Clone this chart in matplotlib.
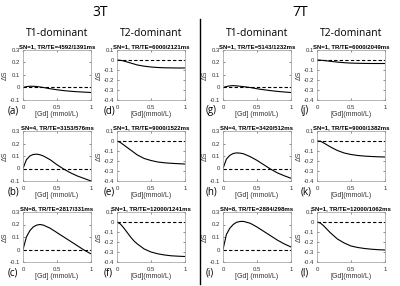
import matplotlib.pyplot as plt

plt.rcParams['font.family'] = ['Liberation Sans', 'DejaVu Sans']

# Gd concentration sample points (mmol/L)
gd = [0, 0.05, 0.1, 0.15, 0.2, 0.25, 0.3, 0.4, 0.5, 0.6, 0.7, 0.8, 0.9, 1.0]

# 3T curves
ds_a = [0, 0.007, 0.01, 0.01, 0.008, 0.004, 0.0, -0.01, -0.018, -0.025, -0.03, -0.034, -0.037, -0.04]
ds_b = [0, 0.07, 0.1, 0.112, 0.115, 0.11, 0.1, 0.07, 0.03, -0.005, -0.035, -0.06, -0.08, -0.1]
ds_c = [0, 0.1, 0.15, 0.18, 0.195, 0.2, 0.195, 0.17, 0.135, 0.1, 0.065, 0.03, -0.005, -0.035]
ds_d = [0, -0.003, -0.01, -0.02, -0.03, -0.04, -0.05, -0.062, -0.07, -0.075, -0.078, -0.079, -0.08, -0.08]
ds_e = [0, -0.015, -0.04, -0.065, -0.09, -0.115, -0.14, -0.175, -0.195, -0.21, -0.218, -0.223, -0.227, -0.23]
ds_f = [0, -0.02, -0.06, -0.105, -0.15, -0.19, -0.22, -0.27, -0.3, -0.318, -0.33, -0.338, -0.342, -0.345]

# 7T curves
ds_g = [0, 0.008, 0.013, 0.015, 0.013, 0.01, 0.007, 0.0, -0.01, -0.018, -0.025, -0.031, -0.036, -0.04]
ds_h = [0, 0.075, 0.105, 0.12, 0.125, 0.123, 0.118, 0.095, 0.065, 0.03, -0.005, -0.035, -0.058, -0.078]
ds_i = [0, 0.12, 0.17, 0.2, 0.218, 0.224, 0.225, 0.21, 0.18, 0.145, 0.11, 0.075, 0.045, 0.02]
ds_j = [0, -0.002, -0.005, -0.009, -0.013, -0.017, -0.021, -0.027, -0.031, -0.033, -0.034, -0.035, -0.035, -0.035]
ds_k = [0, -0.002, -0.02, -0.04, -0.06, -0.078, -0.095, -0.12, -0.135, -0.145, -0.151, -0.155, -0.158, -0.16]
ds_l = [0, -0.01, -0.04, -0.075, -0.11, -0.14, -0.17, -0.21, -0.24, -0.255, -0.265, -0.272, -0.277, -0.28]

titles = [
    ["SN=1, TR/TE=4592/1391ms", "SN=1, TR/TE=6000/2121ms", "SN=1, TR/TE=5143/1232ms", "SN=1, TR/TE=6000/2049ms"],
    ["SN=4, TR/TE=3153/576ms", "SN=1, TR/TE=9000/1522ms", "SN=4, TR/TE=3420/512ms", "SN=1, TR/TE=9000/1382ms"],
    ["SN=8, TR/TE=2817/331ms", "SN=1, TR/TE=12000/1241ms", "SN=8, TR/TE=2884/298ms", "SN=1, TR/TE=12000/1062ms"],
]
curves = [
    [ds_a, ds_d, ds_g, ds_j],
    [ds_b, ds_e, ds_h, ds_k],
    [ds_c, ds_f, ds_i, ds_l],
]
letters = [["(a)", "(d)", "(g)", "(j)"],
           ["(b)", "(e)", "(h)", "(k)"],
           ["(c)", "(f)", "(i)", "(l)"]]
xlabels = ["[Gd] (mmol/L)", "[Gd](mmol/L)", "[Gd] (mmol/L)", "[Gd](mmol/L)"]

W, H = 400, 286
fig = plt.figure(figsize=(4.0, 2.86), dpi=100)

col_left = [23, 117, 223, 317]
row_top = [50, 131, 212]
ax_w, ax_h = 68, 50
letter_x = [8, 104, 206, 301]

for r in range(3):
    for c in range(4):
        l = col_left[c]
        t = row_top[r]
        ax = fig.add_axes([l / W, 1 - (t + ax_h) / H, ax_w / W, ax_h / H])
        ax.plot(gd, curves[r][c], color='black', lw=0.8)
        ax.axhline(0, color='black', lw=0.8, ls=(0, (3, 2)))
        ax.set_xlim(0, 1)
        if c % 2 == 0:
            ax.set_ylim(-0.1, 0.3)
            yt = [-0.1, 0, 0.1, 0.2, 0.3]
        else:
            ax.set_ylim(-0.4, 0.1)
            yt = [-0.4, -0.3, -0.2, -0.1, 0, 0.1]
        ax.set_yticks(yt)
        ax.set_yticklabels([("%g" % v) for v in yt])
        ax.set_xticks([0, 0.5, 1])
        ax.set_xticklabels(["0", "0.5", "1"])
        ax.tick_params(labelsize=4.3, length=1.5, width=0.4, direction='in',
                       colors='#333333', top=True, right=True,
                       labeltop=False, labelright=False)
        ax.tick_params(axis='x', pad=3.5)
        ax.tick_params(axis='y', pad=2)
        for s in ax.spines.values():
            s.set_color('#999999')
            s.set_linewidth(0.5)
        ax.set_title(titles[r][c], fontsize=4.3, fontweight='bold', pad=1.5)
        ax.set_ylabel("ΔS", fontsize=5, color='#333333', labelpad=1)
        ax.set_xlabel(xlabels[c], fontsize=5, color='#333333', labelpad=1)
        fig.text(letter_x[c] / W, 1 - (t + ax_h + 11) / H, letters[r][c],
                 fontsize=7, ha='left', va='center', family='Open Sans')

# headers
fig.text(100 / W, 1 - 13 / H, "3T", fontsize=10, ha='center', va='center',
         family='Open Sans')
fig.text(300 / W, 1 - 13 / H, "7T", fontsize=10, ha='center', va='center',
         family='Open Sans')
for c, lab in enumerate(["T1-dominant", "T2-dominant", "T1-dominant", "T2-dominant"]):
    fig.text((col_left[c] + ax_w / 2) / W, 1 - 33 / H, lab, fontsize=7.5,
             ha='center', va='center', family='Open Sans')

# separator line between 3T and 7T
fig.add_artist(plt.Line2D([199.5 / W, 199.5 / W], [1 - 19 / H, 1 - 284 / H],
                          color='black', lw=1.0))

fig.savefig("out.png", dpi=100)
